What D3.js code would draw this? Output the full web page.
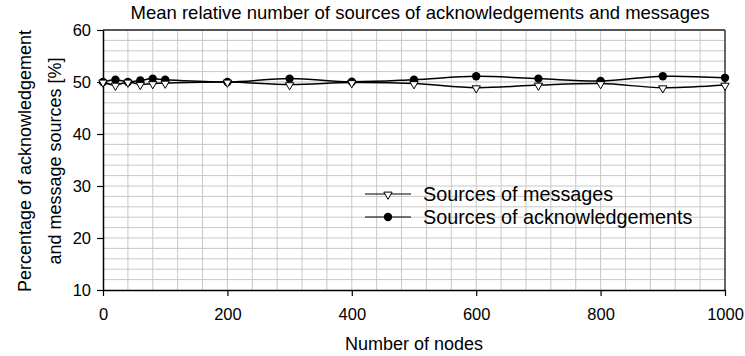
<!DOCTYPE html>
<html>
<head>
<meta charset="utf-8">
<script src="https://cdn.jsdelivr.net/npm/d3@7"></script>
<style>
  body { margin: 0; background: #fff; }
  svg text { font-family: "Liberation Sans", Arial, sans-serif; fill: #000; }
</style>
</head>
<body>
<div class="chart"></div>
<script>
// data
let nodes = [0, 20, 40, 60, 80, 100, 200, 300, 400, 500, 600, 700, 800, 900, 1000];
let messages = [50, 49.4, 50, 49.55, 49.7, 49.8, 50, 49.5, 49.9, 49.7, 48.9, 49.4, 49.7, 48.9, 49.4];
let acks = [50, 50.45, 50, 50.3, 50.65, 50.45, 50, 50.65, 50.05, 50.45, 51.1, 50.65, 50.2, 51.1, 50.8];
let xTicks = [0, 200, 400, 600, 800, 1000];
let yTicks = [10, 20, 30, 40, 50, 60];
let seriesNames = ["Sources of messages", "Sources of acknowledgements"];

let chart = {};
chart.margin = { top: 30, right: 20, bottom: 66, left: 103 };
chart.width = 745 - chart.margin.left - chart.margin.right;   // 622
chart.height = 356 - chart.margin.top - chart.margin.bottom;  // 260

chart.svg = d3.select(".chart").append("svg")
    .attr("width", 745)
    .attr("height", 356);

chart.plot = chart.svg.append("g")
    .attr("transform", `translate(${chart.margin.left},${chart.margin.top})`);

chart.x = d3.scaleLinear().domain([0, 1000]).range([0, chart.width]);
chart.y = d3.scaleLinear().domain([10, 60]).range([chart.height, 0]);

// minor grid
chart.plot.append("g")
    .selectAll("line")
    .data(d3.range(40, 1000, 40))
    .join("line")
    .attr("x1", d => chart.x(d)).attr("x2", d => chart.x(d))
    .attr("y1", 0).attr("y2", chart.height)
    .attr("stroke", "#c8c8c8").attr("stroke-width", 1);

chart.plot.append("g")
    .selectAll("line")
    .data(d3.range(12, 60, 2))
    .join("line")
    .attr("x1", 0).attr("x2", chart.width)
    .attr("y1", d => chart.y(d)).attr("y2", d => chart.y(d))
    .attr("stroke", "#c8c8c8").attr("stroke-width", 1);

// frame: top and right
chart.plot.append("line")
    .attr("x1", 0).attr("x2", chart.width).attr("y1", 0).attr("y2", 0)
    .attr("stroke", "#555").attr("stroke-width", 2);
chart.plot.append("line")
    .attr("x1", chart.width).attr("x2", chart.width).attr("y1", 0).attr("y2", chart.height)
    .attr("stroke", "#333").attr("stroke-width", 1.5);

// axes
let xAxis = chart.plot.append("g")
    .attr("transform", `translate(0,${chart.height})`)
    .call(d3.axisBottom(chart.x).tickValues(xTicks).tickFormat(d3.format("d"))
        .tickSize(6).tickPadding(12).tickSizeOuter(0));
let yAxis = chart.plot.append("g")
    .call(d3.axisLeft(chart.y).tickValues(yTicks).tickFormat(d3.format("d"))
        .tickSize(6).tickPadding(6).tickSizeOuter(0));

[xAxis, yAxis].forEach(a => {
    a.select(".domain").attr("stroke", "#000").attr("stroke-width", 1.5);
    a.selectAll(".tick line").attr("stroke", "#000").attr("stroke-width", 1.2);
    a.selectAll(".tick text").attr("font-size", "16.5px").attr("fill", "#000")
        .attr("font-family", "Liberation Sans, Arial, sans-serif");
});

// series lines
let line = d3.line()
    .x((d, i) => chart.x(nodes[i]))
    .y(d => chart.y(d))
    .curve(d3.curveCatmullRom.alpha(0));

chart.plot.append("path").datum(acks)
    .attr("d", line).attr("fill", "none").attr("stroke", "#000").attr("stroke-width", 1.5);
chart.plot.append("path").datum(messages)
    .attr("d", line).attr("fill", "none").attr("stroke", "#000").attr("stroke-width", 1.5);

let tri = d3.symbol().type(d3.symbolTriangle).size(30);

// markers
chart.plot.append("g").selectAll("circle")
    .data(acks)
    .join("circle")
    .attr("cx", (d, i) => chart.x(nodes[i]))
    .attr("cy", d => chart.y(d))
    .attr("r", 4.2)
    .attr("fill", "#000");

chart.plot.append("g").selectAll("path")
    .data(messages)
    .join("path")
    .attr("d", tri)
    .attr("transform", (d, i) => `translate(${chart.x(nodes[i])},${chart.y(d) + 0.5}) rotate(180)`)
    .attr("fill", "#fff").attr("stroke", "#000").attr("stroke-width", 1);

// legend
let legend = chart.svg.append("g").attr("transform", "translate(365,194)");
seriesNames.forEach((name, i) => {
    let g = legend.append("g").attr("transform", `translate(0,${i * 23})`);
    g.append("line").attr("x1", 0).attr("x2", 46).attr("y1", 0).attr("y2", 0)
        .attr("stroke", "#000").attr("stroke-width", 1.2);
    if (i === 0) {
        g.append("path").attr("d", tri).attr("transform", "translate(23,0.5) rotate(180)")
            .attr("fill", "#fff").attr("stroke", "#000");
    } else {
        g.append("circle").attr("cx", 23).attr("cy", 0).attr("r", 4.2).attr("fill", "#000");
    }
    g.append("text").attr("x", 58).attr("y", 7).attr("font-size", "19.8px").text(name);
});

// titles
chart.svg.append("text")
    .attr("x", 420).attr("y", 19)
    .attr("text-anchor", "middle").attr("font-size", "18.5px")
    .text("Mean relative number of sources of acknowledgements and messages");

chart.svg.append("text")
    .attr("x", chart.margin.left + chart.width / 2).attr("y", 350)
    .attr("text-anchor", "middle").attr("font-size", "18px")
    .text("Number of nodes");

let yTitle = chart.svg.append("text")
    .attr("transform", "translate(0,161) rotate(-90)")
    .attr("text-anchor", "middle").attr("font-size", "18px");
yTitle.append("tspan").attr("x", 0).attr("y", 31).text("Percentage of acknowledgement");
yTitle.append("tspan").attr("x", 0).attr("y", 61).text("and message sources [%]");
</script>
</body>
</html>
